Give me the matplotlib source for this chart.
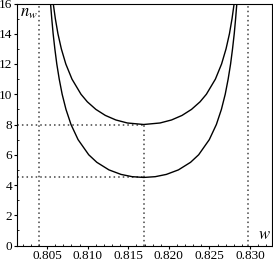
import matplotlib
matplotlib.use("Agg")
import matplotlib.pyplot as plt
from matplotlib.ticker import MultipleLocator

# values
w_upper = [0.80555, 0.80576, 0.80602, 0.80634, 0.80676, 0.80731, 0.80807,
           0.80918, 0.80996, 0.81101, 0.81218, 0.81347, 0.81489, 0.81690,
           0.81891, 0.82033, 0.82162, 0.82279, 0.82384, 0.82462, 0.82573,
           0.82649, 0.82704, 0.82746, 0.82778, 0.82804, 0.82825]
n_upper = [17.0, 16.0, 15.0, 14.0, 13.0, 12.0, 11.0,
           10.0, 9.5, 9.0, 8.6, 8.3, 8.1, 8.0,
           8.1, 8.3, 8.6, 9.0, 9.5, 10.0, 11.0,
           12.0, 13.0, 14.0, 15.0, 16.0, 17.0]

w_lower = [0.80530, 0.80543, 0.80558, 0.80575, 0.80596, 0.80620, 0.80650,
           0.80686, 0.80733, 0.80795, 0.80882, 0.81013, 0.81113, 0.81262,
           0.81411, 0.81548, 0.81690, 0.81832, 0.81969, 0.82118, 0.82267,
           0.82367, 0.82498, 0.82585, 0.82647, 0.82694, 0.82730, 0.82760,
           0.82784, 0.82805, 0.82822, 0.82837, 0.82850]
n_lower = [17.0, 16.0, 15.0, 14.0, 13.0, 12.0, 11.0,
           10.0, 9.0, 8.0, 7.0, 6.0, 5.5, 5.0,
           4.7, 4.55, 4.5, 4.55, 4.7, 5.0, 5.5,
           6.0, 7.0, 8.0, 9.0, 10.0, 11.0, 12.0,
           13.0, 14.0, 15.0, 16.0, 17.0]

w_left, w_mid, w_right = 0.80405, 0.8169, 0.8298
n_min_upper, n_min_lower = 8.0, 4.5

x_ticks = [0.805, 0.810, 0.815, 0.820, 0.825, 0.830]
y_ticks = [0, 2, 4, 6, 8, 10, 12, 14, 16]

plt.rcParams['font.family'] = ['Liberation Serif', 'DejaVu Serif']
plt.rcParams['mathtext.fontset'] = 'stix'

fig = plt.figure(figsize=(2.73, 2.62), dpi=100)
ax = fig.add_axes([17/273, 16.5/262, 255/273, 242/262])

dot = dict(color='#444444', lw=1.1, ls=(0, (1, 2)))
ax.axvline(w_left, **dot)
ax.axvline(w_right, **dot)
ax.plot([w_mid, w_mid], [0, n_min_upper], **dot)
ax.plot([0.79, w_mid], [n_min_upper, n_min_upper], **dot)
ax.plot([0.79, w_mid], [n_min_lower, n_min_lower], **dot)

ax.plot(w_upper, n_upper, color='black', lw=1.0)
ax.plot(w_lower, n_lower, color='black', lw=1.0)

ax.set_xlim(0.8013, 0.8327)
ax.set_ylim(0, 16)
ax.set_xticks(x_ticks)
ax.set_xticklabels(['%.3f' % v for v in x_ticks])
ax.set_yticks(y_ticks)
ax.xaxis.set_minor_locator(MultipleLocator(0.001))
ax.yaxis.set_minor_locator(MultipleLocator(1))
ax.tick_params(which='major', direction='out', length=2.5, width=0.8,
               labelsize=9.5, pad=1)
ax.tick_params(which='minor', direction='in', length=1.5, width=0.6)
for s in ax.spines.values():
    s.set_linewidth(0.8)

ax.text(0.012, 0.995, r'$n_w$', transform=ax.transAxes, fontsize=12,
        ha='left', va='top')
ax.text(0.995, 0.01, r'$w$', transform=ax.transAxes, fontsize=12,
        ha='right', va='bottom')

fig.savefig('out.png', dpi=100)
